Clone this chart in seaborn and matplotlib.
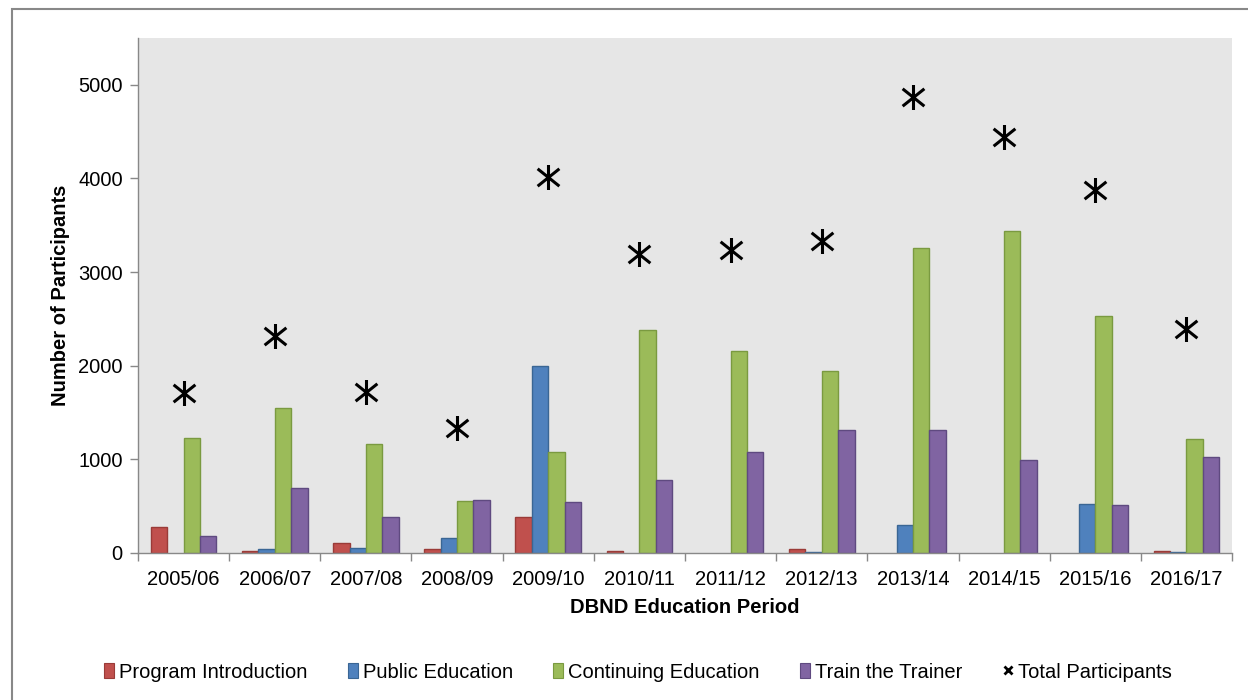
import numpy as np
import pandas as pd
import matplotlib
matplotlib.use("Agg")
import matplotlib.pyplot as plt
from matplotlib.path import Path
from matplotlib.patches import Patch, Rectangle
from matplotlib.lines import Line2D
import seaborn as sns

periods = ["2005/06", "2006/07", "2007/08", "2008/09", "2009/10", "2010/11",
           "2011/12", "2012/13", "2013/14", "2014/15", "2015/16", "2016/17"]
program_intro = [275, 25, 107, 38, 380, 25, np.nan, 38, np.nan, np.nan, np.nan, 25]
public_edu = [np.nan, 38, 53, 156, 2000, np.nan, np.nan, 12, 302, np.nan, 526, 12]
continuing_edu = [1229, 1549, 1165, 554, 1083, 2377, 2160, 1947, 3252, 3443, 2527, 1219]
train_trainer = [185, 689, 380, 568, 540, 778, 1083, 1311, 1311, 995, 515, 1030]
total = [1706, 2313, 1715, 1333, 4019, 3198, 3241, 3337, 4872, 4446, 3881, 2388]

series_names = ["Program Introduction", "Public Education", "Continuing Education", "Train the Trainer"]
colors = ["#C0504D", "#4F81BD", "#9BBB59", "#8064A2"]
edges = ["#9A3B38", "#3A6694", "#7A9A40", "#5F4A80"]

rows = []
for name, vals in zip(series_names, [program_intro, public_edu, continuing_edu, train_trainer]):
    for p, v in zip(periods, vals):
        rows.append({"Period": p, "Series": name, "Value": v})
df = pd.DataFrame(rows)

sns.set_style("white")
plt.rcParams["font.family"] = ["Liberation Sans", "DejaVu Sans"]
plt.rcParams["text.color"] = "black"
plt.rcParams["axes.labelcolor"] = "black"
plt.rcParams["xtick.color"] = "black"
plt.rcParams["ytick.color"] = "black"

FS = 14.5

fig = plt.figure(figsize=(12.48, 7.0), dpi=100)
ax = fig.add_axes([138/1248, 1-553/700, (1232-138)/1248, (553-38)/700])
ax.set_facecolor("#E6E6E6")

sns.barplot(data=df, x="Period", y="Value", hue="Series", hue_order=series_names,
            order=periods, palette=colors, width=0.72, ax=ax, errorbar=None,
            legend=False, linewidth=1.0, saturation=1)
for i, cont in enumerate(ax.containers):
    for bar in cont:
        bar.set_edgecolor(edges[i])

# asterisk-like marker: X with vertical stroke
star = Path([(-1, -0.8), (1, 0.8), (-1, 0.8), (1, -0.8), (0, -1.15), (0, 1.15)],
            [Path.MOVETO, Path.LINETO, Path.MOVETO, Path.LINETO, Path.MOVETO, Path.LINETO])
ax.plot(np.arange(len(periods)), total, linestyle="none", marker=star,
        markersize=18, markeredgewidth=2.2, color="black", zorder=5)

ax.set_xlim(-0.5, len(periods) - 0.5)
ax.set_ylim(0, 5500)
ax.set_yticks([0, 1000, 2000, 3000, 4000, 5000])
ax.tick_params(axis="y", which="major", direction="out", length=6, width=1,
               color="#888888", labelcolor="black", labelsize=FS, pad=5, left=True)
ax.set_xticks(np.arange(len(periods)))
ax.set_xticklabels(periods)
ax.set_xticks(np.arange(-0.5, len(periods)), minor=True)
ax.tick_params(axis="x", which="major", length=0, labelsize=FS, labelcolor="black", pad=12)
ax.tick_params(axis="x", which="minor", direction="out", length=6, width=1,
               color="#888888", bottom=True)
for s in ["top", "right"]:
    ax.spines[s].set_visible(False)
for s in ["left", "bottom"]:
    ax.spines[s].set_color("#888888")
    ax.spines[s].set_linewidth(1)

ax.set_ylabel("Number of Participants", fontsize=FS, fontweight="bold", labelpad=6)
ax.set_xlabel("DBND Education Period", fontsize=FS, fontweight="bold", labelpad=7)

handles = [Patch(facecolor=c, edgecolor=e, linewidth=0.8) for c, e in zip(colors, edges)]
handles.append(Line2D([], [], linestyle="none", marker="x", color="black",
                      markersize=6, markeredgewidth=2))
fig.legend(handles, series_names + ["Total Participants"], loc="center",
           bbox_to_anchor=(638/1248, 1-672/700), ncol=5, frameon=False,
           fontsize=FS, handlelength=0.5, handleheight=0.8, handletextpad=0.25,
           columnspacing=2.0)

fig.patches.append(Rectangle((12/1248, -0.05), 1.0, 1 - 9/700 + 0.05,
                             transform=fig.transFigure, fill=False,
                             edgecolor="#888888", linewidth=1.5))

fig.savefig("out.png", dpi=100, facecolor="white")
